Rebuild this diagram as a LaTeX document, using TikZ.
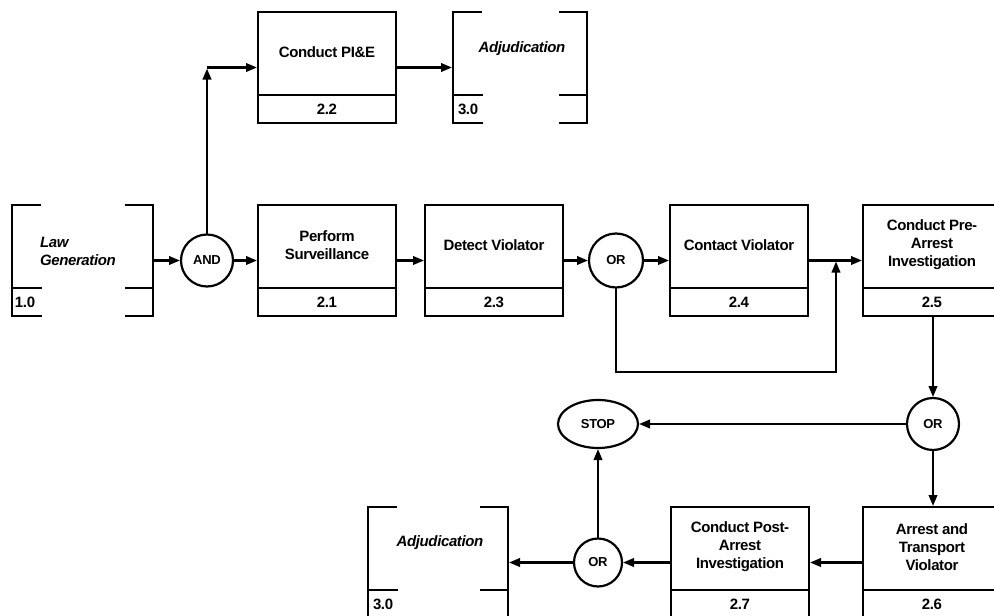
\documentclass[tikz,border=0pt]{standalone}
\usepackage{fontspec}
\setmainfont{Liberation Sans}
\newfontfamily\dfont{Liberation Sans}[LetterSpace=-2.5]
\usetikzlibrary{arrows.meta,calc,shapes.geometric}

% divider line, title and number of a process box
\newcommand\boxparts[3]{%
  \draw ($(#1.south west)+(0,-28)$) -- ($(#1.south east)+(0,-28)$);
  \node[txt] at ($(#1.north)+(0,40)$) {#2};
  \node[txt] at ($(#1.south)+(0,-14)$) {#3};
}
% open-sided frame of an external function
\newcommand\bracketparts[1]{%
  \draw ($(#1.north west)+(29,0)$) -- (#1.north west) -- (#1.south west) -- ($(#1.south west)+(30,0)$);
  \draw ($(#1.north east)+(-28,0)$) -- (#1.north east) -- (#1.south east) -- ($(#1.south east)+(-28,0)$);
  \draw ($(#1.south west)+(0,-28)$) -- ++(30,0);
  \draw ($(#1.south east)+(0,-28)$) -- ++(-28,0);
}

\begin{document}
\begin{tikzpicture}[x=1pt,y=-1pt,
  line width=2.2pt,
  every node/.style={inner sep=0pt, outer sep=0pt},
  txt/.style={font={\dfont\bfseries\fontsize{15}{18}\selectfont}, align=center},
  itxt/.style={font={\dfont\bfseries\itshape\fontsize{15}{18}\selectfont}, align=left},
  proc/.style={draw, rectangle, minimum width=138pt, minimum height=111pt, anchor=north west},
  ext/.style={rectangle, minimum height=111pt, anchor=north west},
  gate/.style={draw, circle, minimum size=52pt, font={\dfont\bfseries\fontsize{13}{15}\selectfont}},
  arr/.style={-{Triangle[length=11pt,width=8.5pt]}, shorten >=1pt}]

\useasboundingbox (0,0) rectangle (994,616);

% external functions
\node[ext, minimum width=141pt] (law) at (12,205) {};
\node[ext, minimum width=134pt] (adjA) at (453,12) {};
\node[ext, minimum width=140pt] (adjB) at (368,507) {};
\bracketparts{law}
\bracketparts{adjA}
\bracketparts{adjB}
\node[itxt, anchor=west] at ($(law.north west)+(28,46)$) {Law\\Generation};
\node[txt, anchor=west] at ($(law.south west)+(3,-14)$) {1.0};
\node[itxt] at ($(adjA.north)+(2,37)$) {Adjudication};
\node[txt, anchor=west] at ($(adjA.south west)+(5,-14)$) {3.0};
\node[itxt] at ($(adjB.north)+(2,36)$) {Adjudication};
\node[txt, anchor=west] at ($(adjB.south west)+(5,-14)$) {3.0};

% process boxes
\node[proc] (pie) at (258,12) {};
\node[proc] (b21) at (258,205) {};
\node[proc] (b23) at (425,205) {};
\node[proc] (b24) at (670,205) {};
\node[proc] (b25) at (863,205) {};
\node[proc] (b26) at (863,507) {};
\node[proc] (b27) at (671,507) {};
\boxparts{pie}{Conduct PI\&E}{2.2}
\boxparts{b21}{Perform\\Surveillance}{2.1}
\boxparts{b23}{Detect Violator}{2.3}
\boxparts{b24}{Contact Violator}{2.4}
\boxparts{b25}{Conduct Pre-\\Arrest\\Investigation}{2.5}
\boxparts{b26}{Arrest and\\Transport\\Violator}{2.6}
\boxparts{b27}{Conduct Post-\\Arrest\\Investigation}{2.7}

% logic gates
\node[gate] (and) at (207,260.5) {AND};
\node[gate, minimum size=54pt] (or1) at (616,260.5) {OR};
\node[gate] (or2) at (933,424) {OR};
\node[gate, minimum size=48pt] (or3) at (598,562.5) {OR};
\node[draw, ellipse, minimum width=80pt, minimum height=48pt,
      font={\dfont\bfseries\fontsize{13}{15}\selectfont}] (stop) at (598,424) {STOP};

% flow
\coordinate (up) at (207,67.5);
\coordinate (byp) at (836,372);
\draw[arr] (law.east) -- (and.west);
\draw[arr] (and.north) -- (up);
\draw[arr] (up) -- (up -| pie.west);
\draw[arr] (pie.east) -- (pie.east -| adjA.west);
\draw[arr] (and.east) -- (b21.west);
\draw[arr] (b21.east) -- (b23.west);
\draw[arr] (b23.east) -- (or1.west);
\draw[arr] (or1.east) -- (b24.west);
\draw[arr] (b24.east) -- (b25.west);
\draw[arr] (or1.south) |- (byp) -- (byp |- b24.east);
\draw[arr] (b25.south -| or2) -- (or2.north);
\draw[arr] (or2.west) -- (stop.east);
\draw[arr] (or2.south) -- (or2.south |- b26.north);
\draw[arr] (b26.west) -- (b27.east);
\draw[arr] (b27.west) -- (or3.east);
\draw[arr] (or3.west) -- (or3 -| adjB.east);
\draw[arr] (or3.north) -- (stop.south);
\end{tikzpicture}
\end{document}
